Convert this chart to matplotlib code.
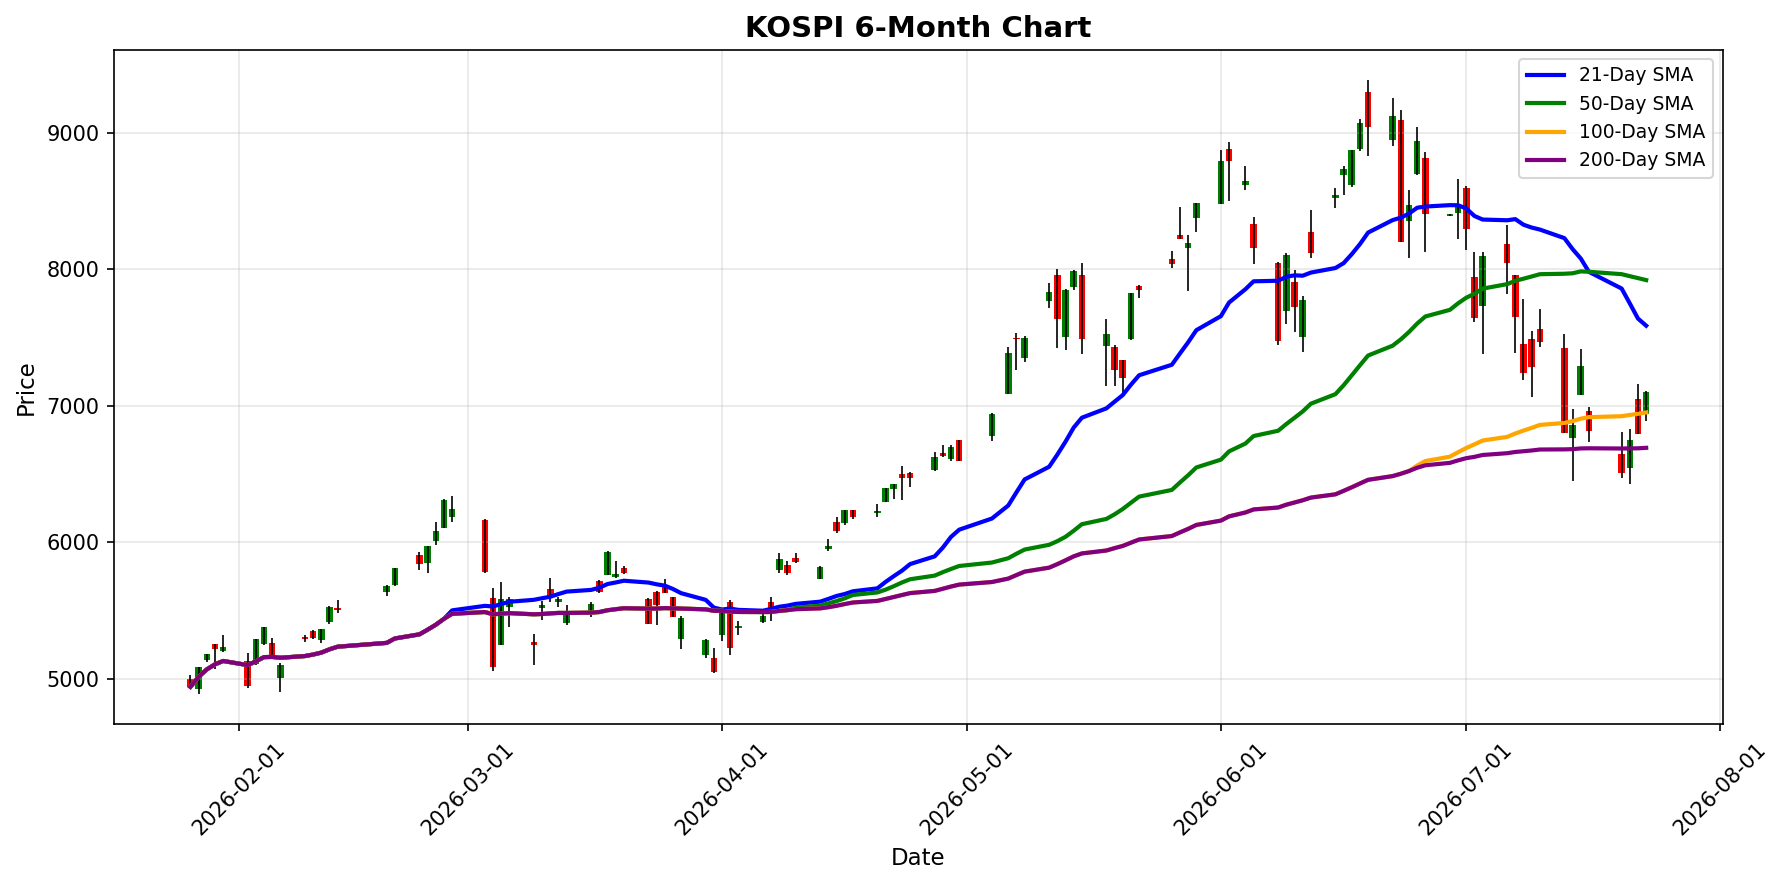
import pandas as pd
import matplotlib
matplotlib.use('Agg')
from matplotlib import pyplot as plt
import matplotlib.dates as mdates

dates = ['2026-01-26', '2026-01-27', '2026-01-28', '2026-01-29', '2026-01-30',
         '2026-02-02', '2026-02-03', '2026-02-04', '2026-02-05', '2026-02-06',
         '2026-02-09', '2026-02-10', '2026-02-11', '2026-02-12', '2026-02-13',
         '2026-02-19', '2026-02-20',
         '2026-02-23', '2026-02-24', '2026-02-25', '2026-02-26', '2026-02-27',
         '2026-03-03', '2026-03-04', '2026-03-05', '2026-03-06',
         '2026-03-09', '2026-03-10', '2026-03-11', '2026-03-12', '2026-03-13',
         '2026-03-16', '2026-03-17', '2026-03-18', '2026-03-19', '2026-03-20',
         '2026-03-23', '2026-03-24', '2026-03-25', '2026-03-26', '2026-03-27',
         '2026-03-30', '2026-03-31', '2026-04-01', '2026-04-02', '2026-04-03',
         '2026-04-06', '2026-04-07', '2026-04-08', '2026-04-09', '2026-04-10',
         '2026-04-13', '2026-04-14', '2026-04-15', '2026-04-16', '2026-04-17',
         '2026-04-20', '2026-04-21', '2026-04-22', '2026-04-23', '2026-04-24',
         '2026-04-27', '2026-04-28', '2026-04-29', '2026-04-30',
         '2026-05-04', '2026-05-06', '2026-05-07', '2026-05-08',
         '2026-05-11', '2026-05-12', '2026-05-13', '2026-05-14', '2026-05-15',
         '2026-05-18', '2026-05-19', '2026-05-20', '2026-05-21', '2026-05-22',
         '2026-05-26', '2026-05-27', '2026-05-28', '2026-05-29',
         '2026-06-01', '2026-06-02', '2026-06-04', '2026-06-05',
         '2026-06-08', '2026-06-09', '2026-06-10', '2026-06-11', '2026-06-12',
         '2026-06-15', '2026-06-16', '2026-06-17', '2026-06-18', '2026-06-19',
         '2026-06-22', '2026-06-23', '2026-06-24', '2026-06-25', '2026-06-26',
         '2026-06-29', '2026-06-30', '2026-07-01', '2026-07-02', '2026-07-03',
         '2026-07-06', '2026-07-07', '2026-07-08', '2026-07-09', '2026-07-10',
         '2026-07-13', '2026-07-14', '2026-07-15', '2026-07-16',
         '2026-07-20', '2026-07-21', '2026-07-22', '2026-07-23']

opens = [5000, 4929, 5136, 5253, 5204,
         5129, 5112, 5255, 5260, 5007,
         5307, 5353, 5282, 5414, 5518,
         5637, 5686,
         5910, 5847, 6012, 6109, 6187,
         6163, 5596, 5248, 5530,
         5272, 5518, 5662, 5560, 5409,
         5501, 5720, 5762, 5749, 5813,
         5589, 5640, 5672, 5597, 5293,
         5174, 5152, 5320, 5560, 5374,
         5418, 5562, 5797, 5836, 5885,
         5734, 5954, 6147, 6144, 6235,
         6213, 6298, 6389, 6499, 6509,
         6529, 6654, 6612, 6747,
         6782, 7090, 7501, 7352,
         7770, 7956, 7506, 7873, 7956,
         7440, 7428, 7335, 7487, 7878,
         8073, 8252, 8156, 8377,
         8479, 8885, 8619, 8330,
         8049, 7694, 7905, 7504, 8271,
         8523, 8692, 8616, 8880, 9298,
         8946, 9093, 8352, 8702, 8819,
         8391, 8413, 8599, 7941, 7729,
         8188, 7956, 7455, 7491, 7560,
         7423, 6765, 7081, 6966,
         6648, 6543, 7051, 6941]

highs = [5027, 5090, 5182, 5256, 5319,
         5192, 5296, 5380, 5302, 5119,
         5319, 5360, 5367, 5532, 5581,
         5686, 5815,
         5932, 5975, 6146, 6315, 6341,
         6170, 5667, 5710, 5603,
         5326, 5574, 5742, 5603, 5538,
         5560, 5723, 5935, 5861, 5830,
         5592, 5643, 5732, 5600, 5460,
         5296, 5230, 5490, 5577, 5423,
         5479, 5601, 5919, 5861, 5919,
         5826, 6022, 6183, 6237, 6237,
         6279, 6398, 6430, 6560, 6516,
         6664, 6711, 6711, 6750,
         6946, 7428, 7531, 7509,
         7897, 8000, 7853, 7995, 8044,
         7636, 7443, 7338, 7826, 7883,
         8132, 8457, 8249, 8486,
         8873, 8932, 8755, 8381,
         8052, 8117, 7993, 7802, 8433,
         8599, 8755, 8875, 9105, 9386,
         9252, 9171, 8579, 9044, 8858,
         8403, 8665, 8611, 8130, 8130,
         8323, 7958, 7785, 7548, 7707,
         7528, 6978, 7418, 6995,
         6812, 6831, 7161, 7107]

lows = [4929, 4893, 5124, 5071, 5200,
        4937, 5105, 5250, 5170, 4905,
        5270, 5294, 5263, 5401, 5482,
        5611, 5684,
        5796, 5774, 5983, 6105, 6153,
        5779, 5058, 5245, 5380,
        5102, 5428, 5562, 5526, 5394,
        5453, 5633, 5760, 5740, 5766,
        5401, 5397, 5630, 5452, 5220,
        5156, 5044, 5279, 5174, 5325,
        5411, 5425, 5778, 5763, 5848,
        5732, 5939, 6071, 6130, 6169,
        6183, 6296, 6318, 6310, 6408,
        6525, 6627, 6597, 6595,
        6743, 7088, 7266, 7323,
        7719, 7425, 7406, 7846, 7377,
        7147, 7147, 7090, 7485, 7787,
        8010, 8220, 7841, 8271,
        8477, 8501, 8579, 8039,
        7443, 7599, 7540, 7394, 8083,
        8450, 8543, 8604, 8868, 8829,
        8902, 8198, 8086, 8689, 8127,
        8391, 8225, 8144, 7614, 7381,
        7822, 7386, 7191, 7064, 7430,
        6798, 6447, 7079, 6734,
        6472, 6428, 6793, 6892]

closes = [4942, 5088, 5180, 5217, 5231,
          4949, 5294, 5377, 5173, 5100,
          5292, 5299, 5363, 5530, 5506,
          5684, 5813,
          5839, 5973, 6085, 6311, 6243,
          5781, 5088, 5586, 5586,
          5248, 5538, 5603, 5589, 5477,
          5552, 5635, 5932, 5769, 5774,
          5404, 5545, 5633, 5455, 5443,
          5284, 5051, 5487, 5230, 5386,
          5460, 5523, 5875, 5773, 5856,
          5819, 5973, 6086, 6235, 6188,
          6227, 6396, 6428, 6474, 6474,
          6627, 6634, 6698, 6597,
          6944, 7391, 7487, 7501,
          7831, 7638, 7848, 7988, 7489,
          7526, 7264, 7205, 7824, 7846,
          8042, 8222, 8191, 8484,
          8792, 8795, 8645, 8156,
          7474, 8103, 7721, 7773, 8120,
          8548, 8734, 8873, 9071, 9044,
          9122, 8200, 8474, 8939, 8408,
          8403, 8469, 8296, 7643, 8095,
          8046, 7650, 7240, 7284, 7467,
          6800, 6863, 7289, 6814,
          6506, 6751, 6795, 7105]

sma_windows = [21, 50, 100, 200]
sma_colors = ['blue', 'green', 'orange', 'purple']

df = pd.DataFrame({'Open': opens, 'High': highs, 'Low': lows, 'Close': closes},
                  index=pd.to_datetime(dates))

for w in sma_windows:
    df[f'SMA{w}'] = df['Close'].rolling(window=w, min_periods=1).mean()

fig, ax = plt.subplots(figsize=(12, 6), dpi=150)

up = df[df['Close'] >= df['Open']]
down = df[df['Close'] < df['Open']]

ax.bar(up.index, up['Close'] - up['Open'], bottom=up['Open'], color='green', width=0.8)
ax.bar(down.index, down['Close'] - down['Open'], bottom=down['Open'], color='red', width=0.8)
ax.vlines(df.index, df['Low'], df['High'], color='black', linewidth=0.8)

for w, c in zip(sma_windows, sma_colors):
    ax.plot(df.index, df[f'SMA{w}'], color=c, linewidth=2, label=f'{w}-Day SMA')

ax.set_title('KOSPI 6-Month Chart', fontsize=14, fontweight='bold')
ax.set_xlabel('Date', fontsize=11)
ax.set_ylabel('Price', fontsize=11)
ax.legend(loc='upper right', fontsize=9)
ax.grid(True, alpha=0.3)

ax.xaxis.set_major_locator(mdates.MonthLocator())
ax.xaxis.set_major_formatter(mdates.DateFormatter('%Y-%m-%d'))
plt.xticks(rotation=45)

plt.tight_layout()
plt.savefig('out.png', dpi=150, bbox_inches='tight')
